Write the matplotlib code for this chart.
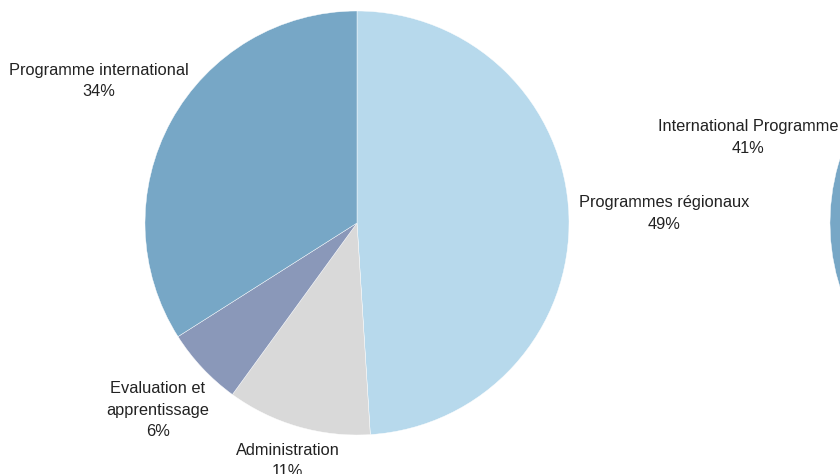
import numpy as np
import matplotlib
matplotlib.use("Agg")
import matplotlib.pyplot as plt

plt.rcParams['font.family'] = ['Liberation Sans', 'DejaVu Sans']

# Left pie (French)
categories_fr = ["Programmes régionaux", "Administration", "Evaluation et\napprentissage", "Programme international"]
values_fr = [49, 11, 6, 34]
colors_fr = ["#b7d9ec", "#d9d9d9", "#8a98b9", "#77a7c6"]
label_dist_fr = [1.45, 1.17, 1.29, 1.39]

# Right pie (English), only the International Programme slice is visible
categories_en = ["Other", "International Programme"]
values_en = [59, 41]
colors_en = ["#b7d9ec", "#77a7c6"]
label_dist_en = [1.45, 1.445]

W, H = 840, 474
fig = plt.figure(figsize=(W / 100, H / 100), dpi=100)

R = 212


def make_ax(cx, cy):
    return fig.add_axes([(cx - R) / W, (H - cy - R) / H, 2 * R / W, 2 * R / H])


def draw_pie(ax, vals, cols, labels, dists, show=None):
    wedges, _ = ax.pie(vals, colors=cols, startangle=90, counterclock=False,
                       radius=1.0, wedgeprops=dict(edgecolor='white', linewidth=0.3))
    ax.set_xlim(-1, 1)
    ax.set_ylim(-1, 1)
    ax.set_aspect('equal')
    ax.axis('off')
    total = sum(vals)
    for i, (w, lab, d) in enumerate(zip(wedges, labels, dists)):
        if show is not None and not show[i]:
            continue
        ang = np.deg2rad((w.theta1 + w.theta2) / 2)
        pct = f"{round(vals[i] / total * 100)}%"
        ax.text(d * np.cos(ang), d * np.sin(ang), f"{lab}\n{pct}",
                ha='center', va='center', fontsize=11.8, color='#222222',
                linespacing=1.55)


ax1 = make_ax(357, 223)
draw_pie(ax1, values_fr, colors_fr, categories_fr, label_dist_fr)

ax2 = make_ax(1042, 223)
draw_pie(ax2, values_en, colors_en, categories_en, label_dist_en, show=[False, True])

fig.savefig("out.png", dpi=100)
